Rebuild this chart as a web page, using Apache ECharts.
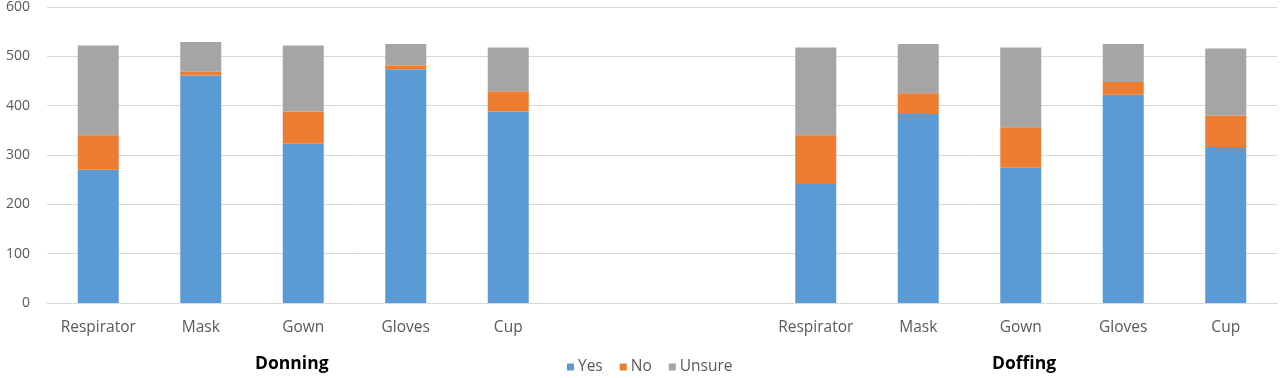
<!DOCTYPE html>
<html>
<head>
<meta charset="utf-8">
<script src="https://cdn.jsdelivr.net/npm/echarts@6/dist/echarts.min.js"></script>
<style>
  html, body { margin: 0; padding: 0; background: #fff; }
  #chart { width: 1280px; height: 378px; }
</style>
</head>
<body>
<div id="chart"></div>
<script>
// categories: 5 donning items, 2 empty slots as spacer, 5 doffing items
const categories = ["Respirator", "Mask", "Gown", "Gloves", "Cup", "", "", "Respirator", "Mask", "Gown", "Gloves", "Cup"];
const yesData = [270, 461, 323, 473, 388, "-", "-", 241, 383, 274, 422, 316];
const noData = [70, 8, 65, 8, 41, "-", "-", 99, 42, 82, 26, 64];
const unsureData = [182, 60, 134, 44, 89, "-", "-", 178, 100, 162, 77, 136];
const groupLabels = ["Donning", "Doffing"];

const chart = echarts.init(document.getElementById("chart"));

function bar(name, data, color) {
  return {
    name: name,
    type: "bar",
    stack: "total",
    data: data,
    barWidth: "40%",
    itemStyle: { color: color },
  };
}

let option = {
  animation: false,
  textStyle: { fontFamily: "Open Sans" },
  grid: { left: 47, right: 3, top: 7, bottom: 75 },
  xAxis: {
    type: "category",
    data: categories,
    axisLine: { lineStyle: { color: "#d9d9d9" } },
    axisTick: { show: false },
    axisLabel: { color: "#595959", fontSize: 15.5, margin: 17, interval: 0 },
  },
  yAxis: {
    type: "value",
    min: 0,
    max: 600,
    interval: 100,
    axisLine: { show: false },
    axisTick: { show: false },
    axisLabel: { color: "#595959", fontSize: 14, margin: 17 },
    splitLine: { lineStyle: { color: "#d9d9d9" } },
  },
  legend: {
    top: 354,
    left: 562,
    itemWidth: 7,
    itemHeight: 7,
    itemGap: 17,
    icon: "rect",
    textStyle: { color: "#595959", fontSize: 15.5, padding: [0, 0, 0, -1] },
    data: ["Yes", "No", "Unsure"],
  },
  graphic: [
    {
      type: "text",
      left: 292 - 37,
      top: 355,
      style: { text: groupLabels[0], font: "bold 17.5px 'Open Sans'", fill: "#000" },
    },
    {
      type: "text",
      left: 1026 - 34,
      top: 355,
      style: { text: groupLabels[1], font: "bold 17.5px 'Open Sans'", fill: "#000" },
    },
  ],
  series: [
    bar("Yes", yesData, "#5b9bd5"),
    bar("No", noData, "#ed7d31"),
    bar("Unsure", unsureData, "#a5a5a5"),
  ],
};
chart.setOption(option);
</script>
</body>
</html>
